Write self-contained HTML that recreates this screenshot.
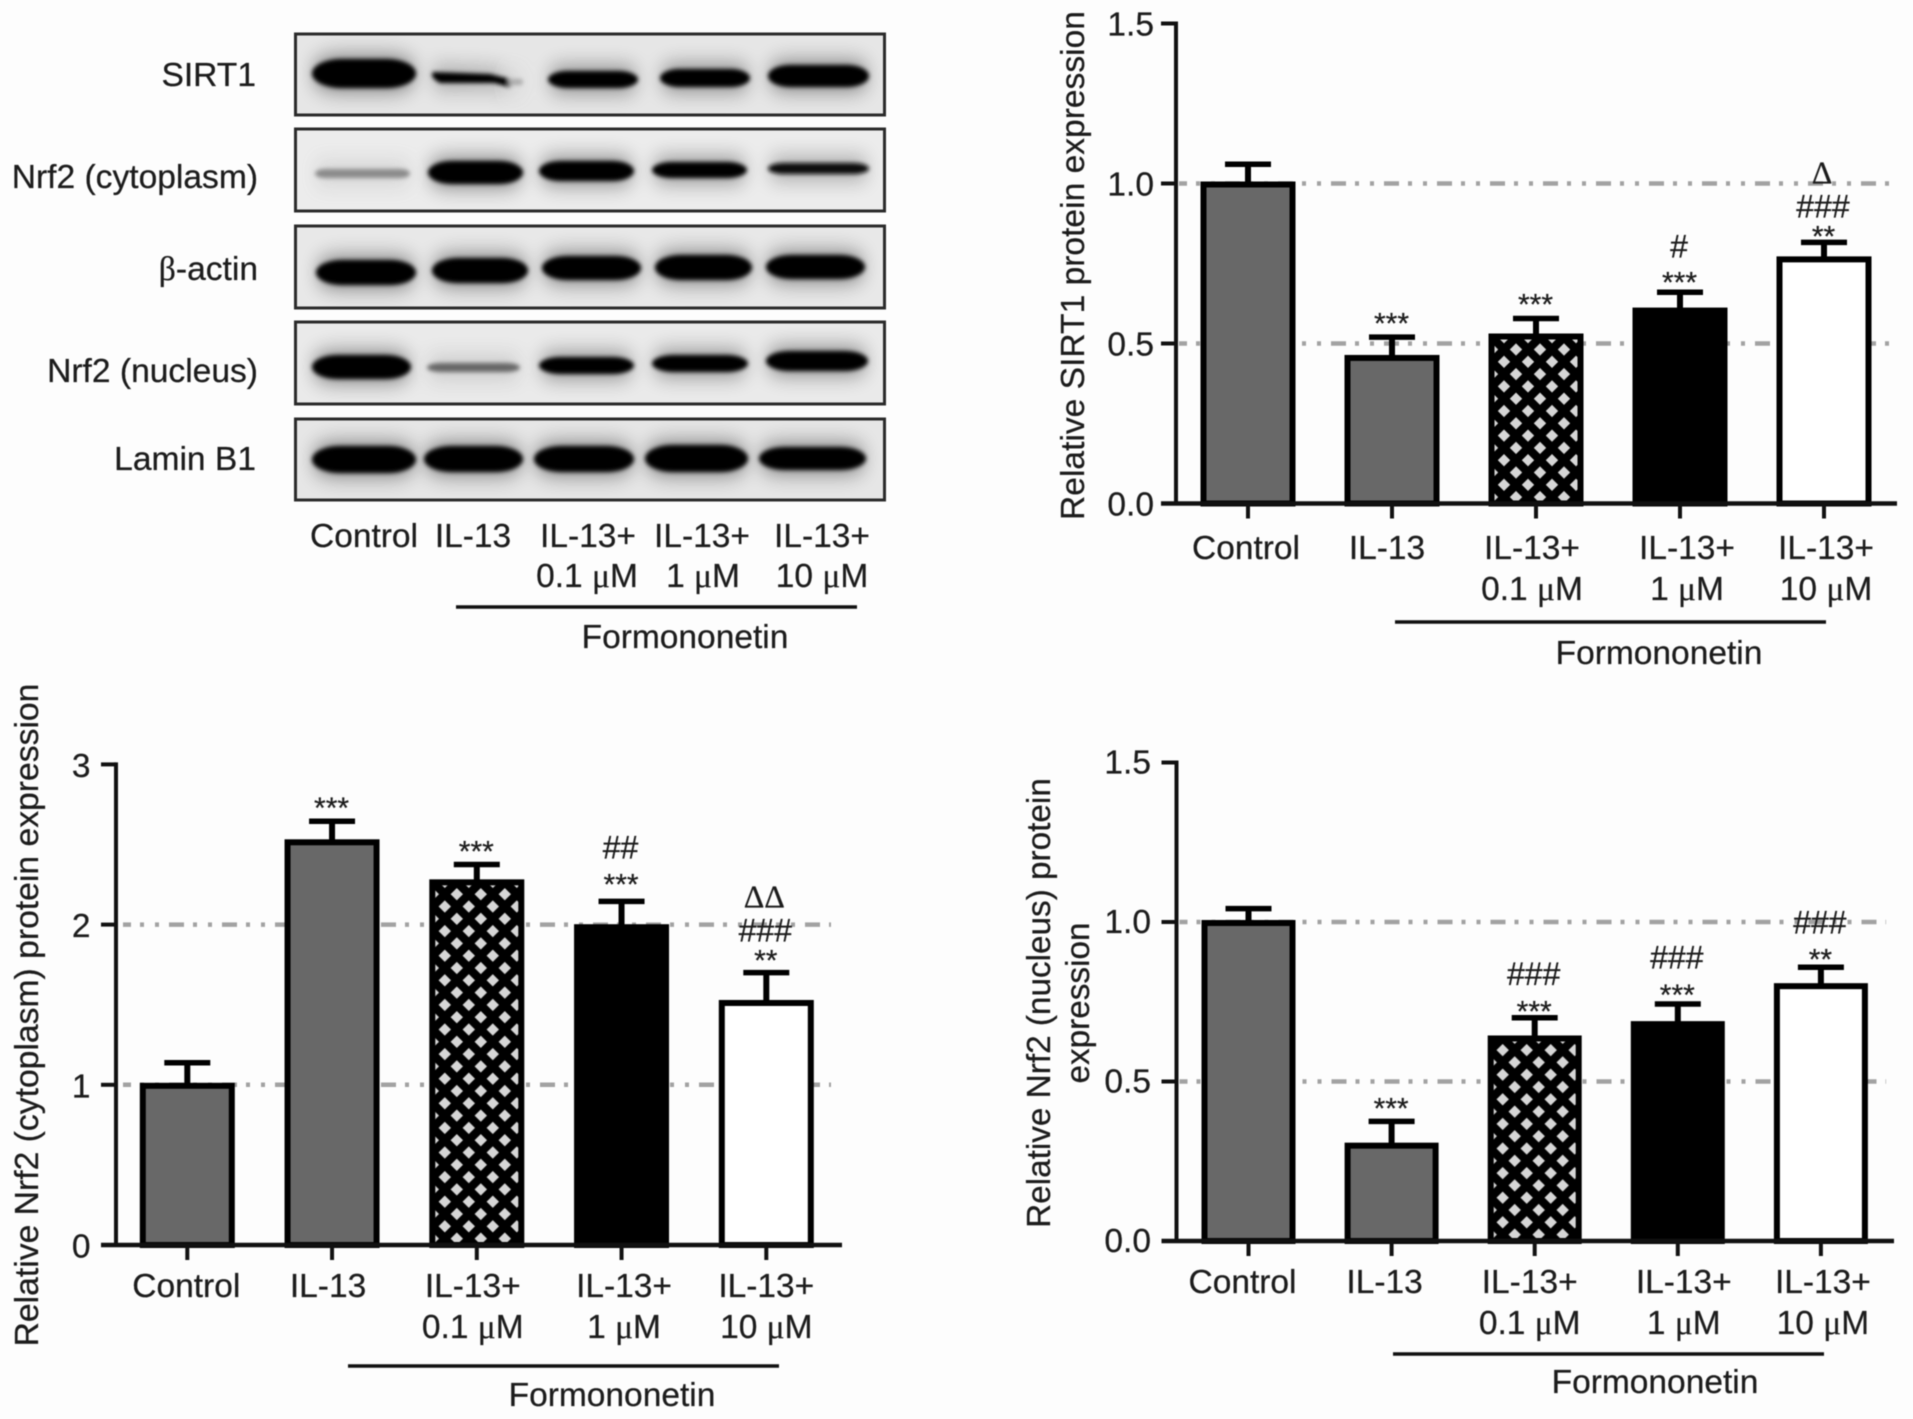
<!DOCTYPE html>
<html lang="en">
<head>
<meta charset="utf-8">
<title>Formononetin western blot and protein expression charts</title>
<style>
html,body{margin:0;padding:0;background:#fdfdfd;}
#figure{display:block;width:1913px;height:1419px;filter:blur(0.6px);}
text{font-family:"Liberation Sans",Arial,sans-serif;fill:#1c1c1c;stroke:#1c1c1c;stroke-width:0.25px;}
.serif{font-family:"Liberation Serif","Times New Roman",serif;}
</style>
</head>
<body>
<svg id="figure" xmlns="http://www.w3.org/2000/svg" width="1913" height="1419" viewBox="0 0 1913 1419">
  <defs>
    <filter id="band-core" x="-20%" y="-60%" width="140%" height="220%"><feGaussianBlur stdDeviation="2.2"/></filter>
    <filter id="band-halo" x="-30%" y="-250%" width="160%" height="600%"><feGaussianBlur stdDeviation="8 12"/></filter>
    <clipPath id="blot-clip">
      <rect x="294" y="33" width="591" height="83"/>
      <rect x="294" y="128" width="591" height="84"/>
      <rect x="294" y="225" width="591" height="84"/>
      <rect x="294" y="321" width="591" height="84"/>
      <rect x="294" y="418" width="591" height="83"/>
    </clipPath>
    <g id="blot-bands">
      <rect x="312" y="59" width="104" height="29" rx="30" ry="14.5" fill="#000"/>
      <path d="M433 72 L490 74 L510 79 Q516 83 509 87 L494 83 L440 83 Q429 77 433 72Z" fill="#000"/>
      <rect x="508" y="79" width="15" height="6" rx="3" fill="#aaa"/>
      <rect x="548" y="71" width="90" height="17" rx="20" ry="8.5" fill="#000"/>
      <rect x="660" y="69" width="90" height="18" rx="20" ry="9" fill="#000"/>
      <rect x="768" y="65" width="101" height="22" rx="22" ry="11" fill="#000"/>

      <rect x="315" y="169" width="95" height="9" rx="10" ry="4.5" fill="#8a8a8a"/>
      <rect x="428" y="161" width="95" height="23" rx="24" ry="11.5" fill="#000"/>
      <rect x="539" y="161" width="95" height="20" rx="22" ry="10" fill="#000"/>
      <rect x="652" y="162" width="95" height="16" rx="20" ry="8" fill="#000"/>
      <rect x="768" y="163" width="101" height="11" rx="16" ry="5.5" fill="#111"/>

      <rect x="316" y="260" width="100" height="25" rx="26" ry="12.5" fill="#000"/>
      <rect x="432" y="258" width="96" height="25" rx="26" ry="12.5" fill="#000"/>
      <rect x="542" y="256" width="99" height="24" rx="26" ry="12" fill="#000"/>
      <rect x="655" y="255" width="97" height="25" rx="26" ry="12.5" fill="#000"/>
      <rect x="766" y="255" width="99" height="24" rx="26" ry="12" fill="#000"/>

      <rect x="312" y="355" width="99" height="24" rx="26" ry="12" fill="#000"/>
      <rect x="427" y="363" width="93" height="9" rx="14" ry="4.5" fill="#666"/>
      <rect x="539" y="357" width="95" height="17" rx="22" ry="8.5" fill="#000"/>
      <rect x="652" y="355" width="96" height="17" rx="22" ry="8.5" fill="#000"/>
      <rect x="766" y="351" width="102" height="20" rx="24" ry="10" fill="#000"/>

      <rect x="312" y="446" width="104" height="27" rx="28" ry="13.5" fill="#000"/>
      <rect x="424" y="446" width="99" height="26" rx="28" ry="13" fill="#000"/>
      <rect x="534" y="446" width="100" height="26" rx="28" ry="13" fill="#000"/>
      <rect x="645" y="445" width="103" height="27" rx="28" ry="13.5" fill="#000"/>
      <rect x="759" y="447" width="107" height="23" rx="26" ry="11.5" fill="#000"/>
    </g>
  </defs>

  <g id="western-blot">
    <rect x="294" y="33" width="591" height="83" fill="#e6e6e6"/>
    <rect x="294" y="128" width="591" height="84" fill="#ececec"/>
    <rect x="294" y="225" width="591" height="84" fill="#e8e8e8"/>
    <rect x="294" y="321" width="591" height="84" fill="#eaeaea"/>
    <rect x="294" y="418" width="591" height="83" fill="#e6e6e6"/>
    <g clip-path="url(#blot-clip)">
      <g filter="url(#band-halo)" opacity="0.6"><use href="#blot-bands"/></g>
      <g filter="url(#band-core)"><use href="#blot-bands"/></g>
    </g>
    <g fill="none" stroke="#2b2b2b" stroke-width="3">
      <rect x="295.5" y="34" width="589" height="81"/>
      <rect x="295.5" y="129" width="589" height="82"/>
      <rect x="295.5" y="226" width="589" height="82"/>
      <rect x="295.5" y="322" width="589" height="82"/>
      <rect x="295.5" y="419" width="589" height="81"/>
    </g>
    <g font-size="33.6" text-anchor="end">
      <text x="256" y="86">SIRT1</text>
      <text x="258" y="188">Nrf2 (cytoplasm)</text>
      <text x="258" y="280"><tspan class="serif">β</tspan>-actin</text>
      <text x="258" y="382">Nrf2 (nucleus)</text>
      <text x="256" y="470">Lamin B1</text>
    </g>
    <g font-size="33.5" text-anchor="middle">
      <text x="364" y="547">Control</text>
      <text x="473" y="547">IL-13</text>
      <text x="588" y="547">IL-13+</text>
      <text x="702" y="547">IL-13+</text>
      <text x="822" y="547">IL-13+</text>
      <text x="587" y="587">0.1 <tspan class="serif">μ</tspan>M</text>
      <text x="703" y="587">1 <tspan class="serif">μ</tspan>M</text>
      <text x="822" y="587">10 <tspan class="serif">μ</tspan>M</text>
      <text x="685" y="648">Formononetin</text>
    </g>
    <line x1="456" x2="857" y1="607" y2="607" stroke="#111" stroke-width="3.5"/>
  </g>
  <g id="charts"></g>
</svg>

<script>
// ---- Shared category labels ----
const categoryLine1 = ["Control", "IL-13", "IL-13+", "IL-13+", "IL-13+"];
const categoryLine2 = ["", "", "0.1 μM", "1 μM", "10 μM"];
const barStyles = ["gray", "gray", "hatch", "black", "white"];

// ---- SIRT1 chart data ----
const sirt1Ticks = ["0.0", "0.5", "1.0", "1.5"];
const sirt1TickValues = [0, 0.5, 1.0, 1.5];
const sirt1GridValues = [0.5, 1.0];
const sirt1Means = [1.0, 0.458, 0.525, 0.606, 0.766];
const sirt1Errors = [0.06, 0.062, 0.053, 0.054, 0.05];
const sirt1Stars = ["", "***", "***", "***", "**"];
const sirt1Hashes = ["", "", "", "#", "###"];
const sirt1Deltas = ["", "", "", "", "Δ"];

// ---- Nrf2 (cytoplasm) chart data ----
const cytoTicks = ["0", "1", "2", "3"];
const cytoTickValues = [0, 1, 2, 3];
const cytoGridValues = [1, 2];
const cytoMeans = [1.0, 2.52, 2.27, 1.99, 1.517];
const cytoErrors = [0.138, 0.125, 0.105, 0.155, 0.183];
const cytoStars = ["", "***", "***", "***", "**"];
const cytoHashes = ["", "", "", "##", "###"];
const cytoDeltas = ["", "", "", "", "ΔΔ"];

// ---- Nrf2 (nucleus) chart data ----
const nucTicks = ["0.0", "0.5", "1.0", "1.5"];
const nucTickValues = [0, 0.5, 1.0, 1.5];
const nucGridValues = [0.5, 1.0];
const nucMeans = [1.0, 0.302, 0.638, 0.683, 0.802];
const nucErrors = [0.042, 0.073, 0.062, 0.06, 0.056];
const nucStars = ["", "***", "***", "***", "**"];
const nucHashes = ["", "", "###", "###", "###"];
const nucDeltas = ["", "", "", "", ""];

const SVG_NS = "http://www.w3.org/2000/svg";
const chartsRoot = document.getElementById("charts");
const svgRoot = document.getElementById("figure");

function make(parent, tag, attrs, text) {
  const el = document.createElementNS(SVG_NS, tag);
  for (const k in attrs) el.setAttribute(k, attrs[k]);
  if (text !== undefined) el.textContent = text;
  parent.appendChild(el);
  return el;
}

function addMicroText(el, str) {
  const idx = str.indexOf("μ");
  if (idx < 0) { el.textContent = str; return; }
  el.appendChild(document.createTextNode(str.slice(0, idx)));
  const t = document.createElementNS(SVG_NS, "tspan");
  t.setAttribute("class", "serif");
  t.textContent = "μ";
  el.appendChild(t);
  el.appendChild(document.createTextNode(str.slice(idx + 1)));
}

function drawChart(id, data, layout) {
  const g = make(chartsRoot, "g", {});
  
  

  const yScale = function (v) { return layout.y0 - v * layout.yUnit; };
  const xScale = function (i) { return layout.x0 + i * layout.xStep; };

  // hatch pattern aligned with the hatched bar
  const hatchIndex = barStyles.indexOf("hatch");
  const originX = xScale(hatchIndex) + 4 - 12;
  const originY = layout.y0 - 154 - 6.15;
  const defs = make(svgRoot, "defs", {});
  const pat = make(defs, "pattern", {
    id: id + "-hatch", patternUnits: "userSpaceOnUse",
    x: originX, y: originY, width: 24, height: 24.6
  });
  make(pat, "rect", { x: 0, y: 0, width: 24, height: 24.6, fill: "#000" });
  make(pat, "polygon", { points: "12,0 18.2,6.15 12,12.3 5.8,6.15", fill: "#d6d6d6" });
  make(pat, "polygon", { points: "0,12.3 6.2,18.45 0,24.6 -6.2,18.45", fill: "#d6d6d6" });
  make(pat, "polygon", { points: "24,12.3 30.2,18.45 24,24.6 17.8,18.45", fill: "#d6d6d6" });

  // gridlines
  data.gridValues.forEach(function (v) {
    const line = make(g, "line", {
      x1: layout.gridX1, x2: layout.gridX2, y1: yScale(v), y2: yScale(v),
      stroke: "#a2a2a2", "stroke-width": 4.5,
      "stroke-dasharray": "15 9 4 11 4 10", "stroke-dashoffset": 7
    });
    
    
  });

  // bars
  const barOuter = layout.barWidth;
  const border = 6;
  data.means.forEach(function (v, i) {
    const c = xScale(i);
    const top = yScale(v);
    const errTop = yScale(v + data.errors[i]);

    const stem = make(g, "line", { x1: c, x2: c, y1: top, y2: errTop, stroke: "#000", "stroke-width": 6 });
    
    

    const cap = make(g, "line", { x1: c - 23, x2: c + 23, y1: errTop, y2: errTop, stroke: "#000", "stroke-width": 5.5 });
    
    

    const style = barStyles[i];
    const fill = style === "gray" ? "#686868" : style === "black" ? "#000" : style === "white" ? "#fff" : "url(#" + id + "-hatch)";
    const bar = make(g, "rect", {
      x: c - barOuter / 2 + border / 2, y: top + border / 2 - 2,
      width: barOuter - border, height: layout.y0 - top - border / 2 + 2,
      fill: fill, stroke: "#000", "stroke-width": border
    });
    
    

    // significance annotations
    const starY = errTop - layout.starLift[i];
    const hashBottom = starY - layout.hashGap[i];
    if (data.stars[i]) {
      const s = make(g, "text", { x: c - 0.5, y: starY + 15, "text-anchor": "middle", "font-size": 30 }, data.stars[i]);
      
      
    }
    if (data.hashes[i]) {
      const h = make(g, "text", { x: c - 1, y: hashBottom, "text-anchor": "middle", "font-size": 32 }, data.hashes[i]);
      
      
    }
    if (data.deltas[i]) {
      const d = make(g, "text", { x: c - 2, y: hashBottom - 34, "text-anchor": "middle", "font-size": 32, "class": "serif" }, data.deltas[i]);
      
      
    }

    // x tick
    const tick = make(g, "line", { x1: c, x2: c, y1: layout.y0, y2: layout.y0 + 15, stroke: "#111", "stroke-width": 4 });
    
    

    // x labels
    const lx = c + layout.labelShift[i];
    const l1 = make(g, "text", { x: lx, y: layout.labelY1, "text-anchor": "middle", "font-size": 33.5 }, categoryLine1[i]);
    
    
    if (categoryLine2[i]) {
      const l2 = make(g, "text", { x: lx, y: layout.labelY2, "text-anchor": "middle", "font-size": 33.5 });
      addMicroText(l2, categoryLine2[i]);
      
      
    }
  });

  // axes
  const yAxis = make(g, "line", { x1: layout.axisX, x2: layout.axisX, y1: yScale(data.tickValues[data.tickValues.length - 1]) - 2, y2: layout.y0 + 2, stroke: "#111", "stroke-width": 4 });
  
  

  const xAxis = make(g, "line", { x1: layout.axisX - 15, x2: layout.axisEnd, y1: layout.y0, y2: layout.y0, stroke: "#111", "stroke-width": 4.5 });
  
  

  data.tickValues.forEach(function (v, i) {
    const t = make(g, "line", { x1: layout.axisX - 15, x2: layout.axisX, y1: yScale(v), y2: yScale(v), stroke: "#111", "stroke-width": 4 });
    
    
    const lab = make(g, "text", { x: layout.tickLabelX, y: yScale(v) + layout.tickLabelDy, "text-anchor": "end", "font-size": 33.5 }, data.ticks[i]);
    
    
  });

  // y title
  layout.titles.forEach(function (tt) {
    const t = make(g, "text", {
      x: tt.x, y: tt.y, "text-anchor": "middle", "font-size": tt.size,
      transform: "rotate(-90 " + tt.x + " " + tt.y + ")"
    }, tt.text);
    
    
  });

  // bracket + drug label
  const br = make(g, "line", { x1: layout.bracketX1, x2: layout.bracketX2, y1: layout.bracketY, y2: layout.bracketY, stroke: "#111", "stroke-width": 3.5 });
  
  
  const fl = make(g, "text", { x: layout.drugX, y: layout.drugY, "text-anchor": "middle", "font-size": 33.5 }, "Formononetin");
  
  
}

drawChart("sirt1",
  { ticks: sirt1Ticks, tickValues: sirt1TickValues, gridValues: sirt1GridValues, means: sirt1Means, errors: sirt1Errors, stars: sirt1Stars, hashes: sirt1Hashes, deltas: sirt1Deltas },
  { y0: 503.5, yUnit: 320, x0: 1248, xStep: 144, barWidth: 95, axisX: 1176, axisEnd: 1897,
    gridX1: 1179, gridX2: 1889, tickLabelX: 1154, tickLabelDy: 12,
    labelY1: 559, labelY2: 600, labelShift: [-2, -5, -4, 7, 2],
    starLift: [0, 18.5, 19, 15, 11], hashGap: [0, 0, 0, 20, 14],
    bracketX1: 1395, bracketX2: 1826, bracketY: 622, drugX: 1659, drugY: 664,
    titles: [{ text: "Relative SIRT1 protein expression", x: 1084, y: 265.5, size: 33.6 }] });

drawChart("nrf2-cytoplasm",
  { ticks: cytoTicks, tickValues: cytoTickValues, gridValues: cytoGridValues, means: cytoMeans, errors: cytoErrors, stars: cytoStars, hashes: cytoHashes, deltas: cytoDeltas },
  { y0: 1245, yUnit: 160.2, x0: 187.3, xStep: 144.75, barWidth: 95, axisX: 116, axisEnd: 842,
    gridX1: 123, gridX2: 831, tickLabelX: 90.5, tickLabelDy: 12.5,
    labelY1: 1297, labelY2: 1338, labelShift: [-1, -4, -4, 2.5, 0],
    starLift: [0, 18.5, 18, 22, 17], hashGap: [0, 0, 0, 21, 14],
    bracketX1: 348, bracketX2: 779, bracketY: 1366, drugX: 612, drugY: 1406,
    titles: [{ text: "Relative Nrf2 (cytoplasm) protein expression", x: 38, y: 1015, size: 33.7 }] });

drawChart("nrf2-nucleus",
  { ticks: nucTicks, tickValues: nucTickValues, gridValues: nucGridValues, means: nucMeans, errors: nucErrors, stars: nucStars, hashes: nucHashes, deltas: nucDeltas },
  { y0: 1241, yUnit: 319, x0: 1248.5, xStep: 143.1, barWidth: 94, axisX: 1176.5, axisEnd: 1894,
    gridX1: 1179.5, gridX2: 1886, tickLabelX: 1151, tickLabelDy: 11,
    labelY1: 1293, labelY2: 1334, labelShift: [-6, -7, -5, 6, 2],
    starLift: [0, 18, 11, 14, 13], hashGap: [0, 0, 21.6, 21.7, 21],
    bracketX1: 1393, bracketX2: 1824, bracketY: 1354, drugX: 1655, drugY: 1393,
    titles: [
      { text: "Relative Nrf2 (nucleus) protein", x: 1050, y: 1003, size: 33.3 },
      { text: "expression", x: 1089, y: 1003, size: 33.3 }
    ] });
</script>
</body>
</html>
